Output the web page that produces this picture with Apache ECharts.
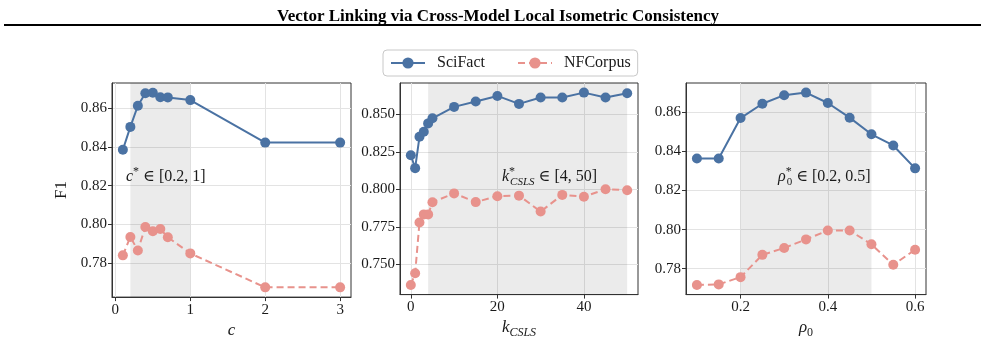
<!DOCTYPE html>
<html>
<head>
<meta charset="utf-8">
<script src="https://cdn.jsdelivr.net/npm/echarts@6/dist/echarts.min.js"></script>
<style>
  html, body { margin: 0; padding: 0; background: #fff; }
  #chart { width: 985px; height: 344px; }
</style>
</head>
<body>
<div id="chart"></div>
<script>
// panel 1: c
const cValues = [0.1, 0.2, 0.3, 0.4, 0.5, 0.6, 0.7, 1, 2, 3]
const cSciFact = [0.8385, 0.8503, 0.8612, 0.8676, 0.8679, 0.8656, 0.8655, 0.8641, 0.8422, 0.8422]
const cNFCorpus = [0.7841, 0.7936, 0.7866, 0.7987, 0.7965, 0.7977, 0.7934, 0.7851, 0.7676, 0.7676]
const cShade = [0.2, 1]
const cXTicks = [0, 1, 2, 3]
const cYTicks = [0.78, 0.80, 0.82, 0.84, 0.86]

// panel 2: k_CSLS
const kValues = [0, 1, 2, 3, 4, 5, 10, 15, 20, 25, 30, 35, 40, 45, 50]
const kSciFact = [0.8228, 0.8142, 0.8351, 0.8384, 0.8440, 0.8474, 0.8550, 0.8586, 0.8623, 0.8570, 0.8612, 0.8612, 0.8645, 0.8612, 0.8641]
const kNFCorpus = [0.7364, 0.7442, 0.7780, 0.7834, 0.7834, 0.7915, 0.7974, 0.7916, 0.7955, 0.7959, 0.7853, 0.7964, 0.7952, 0.8002, 0.7995]
const kShade = [4, 50]
const kXTicks = [0, 20, 40]
const kYTicks = [0.750, 0.775, 0.800, 0.825, 0.850]

// panel 3: rho_0
const rhoValues = [0.1, 0.15, 0.2, 0.25, 0.3, 0.35, 0.4, 0.45, 0.5, 0.55, 0.6]
const rhoSciFact = [0.8363, 0.8363, 0.8570, 0.8643, 0.8687, 0.8700, 0.8647, 0.8572, 0.8487, 0.8430, 0.8313]
const rhoNFCorpus = [0.7717, 0.7720, 0.7757, 0.7871, 0.7906, 0.7950, 0.7995, 0.7995, 0.7925, 0.7820, 0.7897]
const rhoShade = [0.2, 0.5]
const rhoXTicks = [0.2, 0.4, 0.6]
const rhoYTicks = [0.78, 0.80, 0.82, 0.84, 0.86]

const SERIF = "'Liberation Serif', 'DejaVu Serif', serif"
const BLUE = '#4a72a3'
const PINK = '#e8928c'
const INK = '#1a1a1a'

const chart = echarts.init(document.getElementById('chart'))

// 每个子图的位置
const grids = [
  { left: 112, top: 83, width: 239, height: 217 },
  { left: 400, top: 83, width: 238, height: 217 },
  { left: 686, top: 83, width: 240, height: 217 }
]

// matplotlib 默认留 5% 边距
function padded(arr) {
  const lo = Math.min(...arr), hi = Math.max(...arr)
  const m = (hi - lo) * 0.05
  return [lo - m, hi + m]
}

const subRich = {
  i: { fontFamily: SERIF, fontSize: 17, fontStyle: 'italic', color: INK, lineHeight: 22, verticalAlign: 'middle' },
  r: { fontFamily: SERIF, fontSize: 17, color: INK, lineHeight: 22, verticalAlign: 'middle' },
  sub: { fontFamily: SERIF, fontSize: 12, fontStyle: 'italic', color: INK, lineHeight: 12, verticalAlign: 'bottom' },
  sub0: { fontFamily: SERIF, fontSize: 12, color: INK, lineHeight: 12, verticalAlign: 'bottom' }
}

const panels = [
  { xs: cValues, a: cSciFact, b: cNFCorpus, shade: cShade, xt: cXTicks, yt: cYTicks, xd: 0, yd: 2, name: '{i|c}' },
  { xs: kValues, a: kSciFact, b: kNFCorpus, shade: kShade, xt: kXTicks, yt: kYTicks, xd: 0, yd: 3, name: '{i|k}{sub|CSLS}' },
  { xs: rhoValues, a: rhoSciFact, b: rhoNFCorpus, shade: rhoShade, xt: rhoXTicks, yt: rhoYTicks, xd: 1, yd: 2, name: '{i|ρ}{sub0|0}' }
]

const xAxis = [], yAxis = [], series = []

panels.forEach((p, i) => {
  const xr = padded(p.xs)
  const yr = padded(p.a.concat(p.b))
  xAxis.push({
    type: 'value', gridIndex: i, min: xr[0], max: xr[1],
    name: p.name, nameLocation: 'middle', nameGap: 17,
    nameTextStyle: { rich: subRich, fontFamily: SERIF, fontSize: 17 },
    axisLine: { show: true, onZero: false, lineStyle: { color: '#333', width: 1 } },
    axisTick: { show: true, length: 4, customValues: p.xt, lineStyle: { color: '#333' } },
    axisLabel: { customValues: p.xt, margin: 5, fontFamily: SERIF, fontSize: 15, color: INK,
      formatter: v => v.toFixed(p.xd) },
    splitLine: { show: true, customValues: p.xt, lineStyle: { color: '#e3e3e3', width: 1 } }
  })
  yAxis.push({
    type: 'value', gridIndex: i, min: yr[0], max: yr[1],
    name: i === 0 ? 'F1' : '', nameLocation: 'middle', nameGap: 42, nameRotate: 90,
    nameTextStyle: { fontFamily: SERIF, fontSize: 17, color: INK },
    axisLine: { show: true, onZero: false, lineStyle: { color: '#333', width: 1 } },
    axisTick: { show: true, length: 4, customValues: p.yt, lineStyle: { color: '#333' } },
    axisLabel: { customValues: p.yt, margin: 5, fontFamily: SERIF, fontSize: 15, color: INK,
      formatter: v => v.toFixed(p.yd) },
    splitLine: { show: true, customValues: p.yt, lineStyle: { color: '#e3e3e3', width: 1 } }
  })
  series.push({
    name: 'SciFact', type: 'line', xAxisIndex: i, yAxisIndex: i,
    data: p.xs.map((x, j) => [x, p.a[j]]),
    symbol: 'circle', symbolSize: 10,
    lineStyle: { color: BLUE, width: 2 }, itemStyle: { color: BLUE },
    markArea: {
      silent: true,
      itemStyle: { color: 'rgba(0,0,0,0.08)' },
      data: [[{ xAxis: p.shade[0] }, { xAxis: p.shade[1] }]]
    },
    z: 3
  })
  series.push({
    name: 'NFCorpus', type: 'line', xAxisIndex: i, yAxisIndex: i,
    data: p.xs.map((x, j) => [x, p.b[j]]),
    symbol: 'circle', symbolSize: 10,
    lineStyle: { color: PINK, width: 2, type: [7, 4] }, itemStyle: { color: PINK },
    z: 3
  })
})

const noteRich = {
  i: { fontFamily: SERIF, fontSize: 16, fontStyle: 'italic', fill: INK, lineHeight: 22, verticalAlign: 'middle' },
  r: { fontFamily: SERIF, fontSize: 16, fill: INK, lineHeight: 22, verticalAlign: 'middle' },
  sup: { fontFamily: SERIF, fontSize: 12, fill: INK, lineHeight: 12, verticalAlign: 'top' },
  supz: { fontFamily: SERIF, fontSize: 12, fill: INK, lineHeight: 12, verticalAlign: 'top', width: 1 },
  sub: { fontFamily: SERIF, fontSize: 11, fontStyle: 'italic', fill: INK, lineHeight: 11, verticalAlign: 'bottom' },
  sub0: { fontFamily: SERIF, fontSize: 11, fill: INK, lineHeight: 11, verticalAlign: 'bottom' }
}

const option = {
  animation: false,
  backgroundColor: '#fff',
  title: {
    text: 'Vector Linking via Cross-Model Local Isometric Consistency',
    left: 493, textAlign: 'center', top: 3,
    textStyle: { fontFamily: SERIF, fontSize: 17, fontWeight: 'bold', color: '#000' }
  },
  legend: {
    data: ['SciFact', 'NFCorpus'],
    left: 383, top: 50,
    padding: [5, 7, 5, 7],
    itemWidth: 34, itemHeight: 14, itemGap: 32,
    borderColor: '#c8c8c8', borderWidth: 1, borderRadius: 4,
    textStyle: { fontFamily: SERIF, fontSize: 16, color: INK, padding: [0, 0, 0, 7] }
  },
  grid: grids.map(g => Object.assign({ show: true, borderColor: '#333', borderWidth: 1, backgroundColor: 'transparent' }, g)),
  xAxis, yAxis, series,
  graphic: [
    { type: 'line', shape: { x1: 4, y1: 25, x2: 981, y2: 25 }, style: { stroke: '#000', lineWidth: 2 } },
    { type: 'text', left: 126, top: 166, z: 10,
      style: { text: '{i|c}{sup|*}{r| ∈ [0.2, 1]}', rich: noteRich } },
    { type: 'text', left: 502, top: 166, z: 10,
      style: { text: '{i|k}{supz|*}{sub|CSLS}{r| ∈ [4, 50]}', rich: noteRich } },
    { type: 'text', left: 778, top: 166, z: 10,
      style: { text: '{i|ρ}{supz|*}{sub0|0}{r| ∈ [0.2, 0.5]}', rich: noteRich } }
  ]
}

chart.setOption(option)
</script>
</body>
</html>
